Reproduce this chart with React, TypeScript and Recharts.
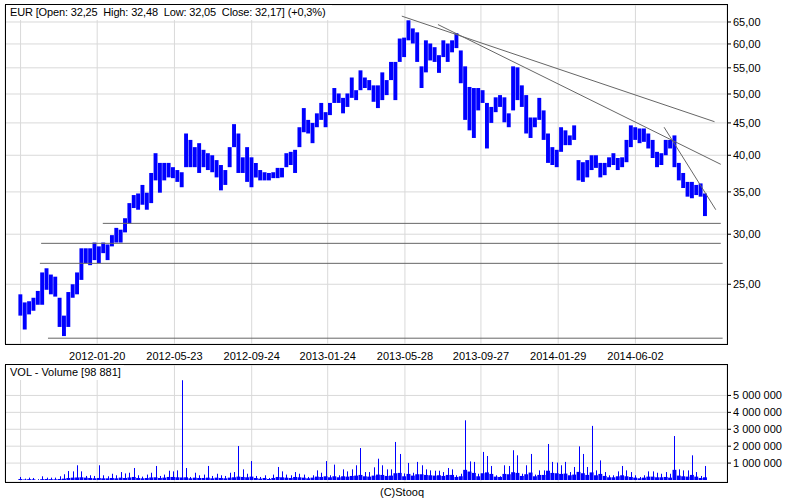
import React from "react";
import {
  ComposedChart,
  BarChart,
  Bar,
  XAxis,
  YAxis,
  CartesianGrid,
  ReferenceLine,
} from "recharts";

const FONT = '"Liberation Sans", Arial, sans-serif';
const BLUE = "#0000ff";
const GRID = "#d9d9d9";
const DRAWN = "#666666";

// Weekly bars, first week centred on this date.
const FIRST_WEEK = "2011-09-19";
const X_START = "2011-08-25";
const X_END = "2014-10-27";
const GRID_DATES = [
  "2011-09-19", "2012-01-20", "2012-05-23", "2012-09-24", "2013-01-24",
  "2013-05-28", "2013-09-27", "2014-01-29", "2014-06-02",
];
const UNLABELED_DATE = "2011-09-19";

const HIGH = [
  24.1, 23.4, 23.5, 23.8, 24.4, 26.1, 26.5, 25.9, 25.7, 23.8,
  22.3, 24.3, 25.0, 26.1, 28.5, 28.5, 28.5, 29.1, 28.7, 29.1,
  28.9, 29.9, 30.7, 30.5, 31.8, 33.6, 34.6, 34.8, 35.9, 34.9,
  37.5, 40.3, 38.9, 38.9, 38.9, 38.3, 37.9, 37.6, 43.3, 42.3,
  41.2, 41.8, 40.8, 40.3, 40.0, 39.3, 38.6, 37.9, 41.2, 44.8,
  43.3, 39.7, 41.2, 39.7, 38.9, 37.9, 37.6, 37.5, 37.6, 38.2,
  38.2, 40.3, 40.5, 40.8, 44.3, 47.5, 45.5, 45.0, 46.6, 48.4,
  46.8, 48.4, 51.1, 50.1, 49.3, 50.1, 53.1, 50.7, 54.5, 53.1,
  52.6, 51.6, 51.6, 54.1, 52.6, 56.2, 56.2, 61.2, 61.4, 65.4,
  63.5, 62.6, 55.3, 60.8, 60.1, 59.3, 57.6, 60.8, 60.1, 60.8,
  62.4, 58.6, 55.3, 51.3, 51.1, 51.1, 50.7, 48.4, 47.7, 49.4,
  49.8, 49.4, 46.6, 55.3, 55.1, 51.6, 49.8, 45.9, 45.9, 49.3,
  47.1, 43.3, 41.2, 40.8, 44.3, 43.8, 43.0, 44.6, 39.3, 39.0,
  39.3, 40.0, 40.0, 38.9, 38.9, 39.7, 40.3, 39.6, 39.7, 42.3,
  44.6, 44.3, 44.1, 44.1, 43.3, 42.3, 40.5, 40.3, 42.3, 42.3,
  43.0, 38.9, 37.5, 36.3, 36.3, 35.9, 36.1, 34.8,
];

const LOW = [
  22.3, 21.2, 22.4, 22.7, 23.2, 23.2, 24.5, 24.1, 23.9, 21.4,
  20.7, 21.4, 23.8, 24.1, 25.4, 27.0, 26.8, 27.3, 27.0, 28.0,
  27.3, 28.7, 29.1, 29.1, 30.2, 31.2, 33.0, 32.8, 33.4, 32.8,
  33.6, 36.5, 34.9, 36.5, 36.9, 36.8, 36.3, 35.6, 38.3, 38.3,
  38.3, 37.5, 38.3, 37.9, 37.6, 36.9, 35.2, 35.9, 38.3, 41.2,
  37.5, 37.5, 36.3, 35.6, 36.9, 36.5, 36.5, 36.5, 36.8, 36.8,
  36.9, 38.3, 38.6, 37.5, 41.2, 43.5, 43.3, 41.8, 44.3, 45.5,
  44.3, 46.3, 48.4, 48.4, 46.6, 47.7, 49.3, 48.9, 50.7, 51.1,
  50.7, 48.6, 47.5, 48.9, 49.8, 52.6, 48.9, 56.2, 57.2, 60.8,
  60.1, 56.2, 51.1, 54.1, 56.5, 56.2, 54.0, 57.2, 56.2, 58.2,
  59.1, 52.0, 45.5, 43.8, 42.6, 47.1, 48.4, 41.0, 45.0, 46.8,
  47.7, 45.1, 44.3, 47.1, 48.9, 47.7, 43.3, 42.6, 44.3, 45.5,
  42.3, 38.9, 38.6, 38.3, 40.5, 41.5, 41.5, 42.3, 36.5, 36.3,
  36.9, 37.9, 38.2, 36.9, 37.2, 38.3, 38.6, 37.9, 38.3, 39.0,
  41.2, 42.3, 41.8, 42.0, 41.0, 39.6, 38.3, 38.6, 40.0, 41.0,
  38.3, 36.5, 35.5, 34.4, 34.2, 34.6, 34.4, 32.05,
];

// Volume in millions: biggest session of the week, and the usual level.
const VOL_PEAK = [
  0.18, 0.08, 0.14, 0.12, 0.05, 0.22, 0.14, 0.14, 0.14, 0.22,
  0.34, 0.53, 0.51, 0.87, 0.51, 0.24, 0.28, 0.24, 0.87, 0.28,
  0.22, 0.37, 0.28, 0.47, 0.39, 0.43, 0.71, 0.28, 0.20, 0.32,
  0.43, 0.83, 0.24, 0.32, 0.55, 0.51, 0.57, 5.90, 0.71, 0.18,
  0.43, 0.28, 0.32, 0.83, 0.24, 0.37, 0.28, 0.24, 0.43, 0.47,
  2.01, 0.63, 0.37, 1.12, 0.24, 0.18, 0.28, 0.12, 0.32, 0.77,
  0.51, 0.32, 0.28, 0.47, 0.37, 0.32, 0.18, 0.28, 0.57, 0.43,
  1.12, 0.28, 0.91, 0.28, 0.63, 0.51, 0.63, 0.87, 1.89, 0.47,
  0.47, 0.75, 1.26, 0.87, 0.63, 0.63, 2.25, 1.54, 0.39, 1.01,
  0.43, 1.07, 0.87, 0.63, 0.57, 0.55, 0.55, 0.47, 0.71, 0.63,
  0.28, 0.37, 3.53, 1.10, 1.07, 0.37, 1.66, 1.42, 0.83, 0.28,
  0.22, 0.87, 0.83, 1.76, 1.46, 0.37, 0.87, 1.54, 0.32, 0.57,
  0.57, 2.13, 1.07, 1.03, 0.87, 1.07, 0.47, 0.77, 1.99, 1.54,
  0.77, 3.20, 0.57, 1.16, 0.47, 0.28, 0.28, 0.51, 0.83, 0.57,
  0.47, 0.28, 0.18, 0.28, 0.51, 0.51, 0.43, 0.37, 0.47, 0.37,
  2.60, 0.63, 0.57, 0.57, 1.46, 0.47, 0.24, 0.83,
];

const VOL_BASE = [
  0.06, 0.03, 0.05, 0.04, 0.00, 0.05, 0.06, 0.05, 0.04, 0.06,
  0.08, 0.12, 0.14, 0.15, 0.16, 0.14, 0.12, 0.10, 0.12, 0.10,
  0.10, 0.12, 0.10, 0.14, 0.12, 0.15, 0.18, 0.12, 0.10, 0.12,
  0.15, 0.16, 0.12, 0.14, 0.18, 0.18, 0.16, 0.15, 0.16, 0.10,
  0.14, 0.12, 0.12, 0.14, 0.10, 0.14, 0.12, 0.10, 0.14, 0.16,
  0.20, 0.18, 0.16, 0.20, 0.12, 0.08, 0.12, 0.06, 0.12, 0.18,
  0.16, 0.14, 0.12, 0.18, 0.16, 0.14, 0.10, 0.14, 0.20, 0.18,
  0.22, 0.16, 0.22, 0.16, 0.22, 0.20, 0.24, 0.26, 0.30, 0.22,
  0.20, 0.26, 0.32, 0.30, 0.24, 0.26, 0.40, 0.42, 0.22, 0.36,
  0.26, 0.34, 0.34, 0.30, 0.28, 0.26, 0.28, 0.24, 0.30, 0.30,
  0.18, 0.22, 0.60, 0.50, 0.42, 0.22, 0.40, 0.45, 0.36, 0.20,
  0.18, 0.36, 0.34, 0.46, 0.42, 0.24, 0.34, 0.44, 0.22, 0.30,
  0.30, 0.55, 0.42, 0.40, 0.36, 0.38, 0.28, 0.32, 0.48, 0.40,
  0.30, 0.45, 0.28, 0.36, 0.24, 0.16, 0.16, 0.22, 0.28, 0.22,
  0.18, 0.14, 0.10, 0.14, 0.20, 0.20, 0.16, 0.16, 0.18, 0.14,
  0.60, 0.26, 0.22, 0.20, 0.30, 0.20, 0.12, 0.16,
];

const PRICE_TICKS = [25, 30, 35, 40, 45, 50, 55, 60, 65];
const PRICE_DOMAIN = [20.11, 69.15];
const VOL_TICKS = [1000000, 2000000, 3000000, 4000000, 5000000];
const VOL_DOMAIN = [-118000, 6800000];

// Hand-drawn trend lines and support levels.
const TREND_LINES = [
  { x1: "2013-05-23", y1: 66.4, x2: "2014-10-07", y2: 45.2 },
  { x1: "2013-07-20", y1: 64.4, x2: "2014-10-17", y2: 38.7 },
  { x1: "2014-07-18", y1: 44.3, x2: "2014-10-09", y2: 32.8 },
];
const LEVELS = [
  { price: 31.21, from: "2012-01-29", to: "2014-10-17" },
  { price: 29.02, from: "2011-10-22", to: "2014-10-17" },
  { price: 26.98, from: "2011-10-20", to: "2014-10-20" },
  { price: 20.54, from: "2011-11-02", to: "2014-10-20" },
];

const TITLE = "EUR [Open: 32,25  High: 32,48  Low: 32,05  Close: 32,17] (+0,3%)";
const VOL_TITLE = "VOL - Volume [98 881]";

const DAY_MS = 86400000;
const day = (s: string) => Math.round(Date.parse(s + "T00:00:00Z") / DAY_MS);
const fmtDate = (d: number) => new Date(d * DAY_MS).toISOString().slice(0, 10);
const fmtPrice = (v: number) => v.toFixed(2).replace(".", ",");
const fmtVol = (v: number) => String(v).replace(/\B(?=(\d{3})+(?!\d))/g, " ");

const start = day(FIRST_WEEK);
const priceRows = HIGH.map((h, i) => ({ t: start + 7 * i, range: [LOW[i], h] }));
const volRows = VOL_PEAK.map((v, i) => ({
  t: start + 7 * i,
  vol: v * 1000000,
  base: VOL_BASE[i] * 1000000,
}));

const xDomain = [day(X_START), day(X_END)];
const xTicks = GRID_DATES.map(day);
const tickStyle = { fontSize: 11, fill: "#000", fontFamily: FONT };

function VolShape(props: any) {
  const { x, y, width, height, payload } = props;
  if (!height || height <= 0) return null;
  const cx = Math.round(x + width / 2);
  const bh = height * Math.min(1, payload.base / payload.vol);
  return (
    <g>
      <rect x={cx} y={y} width={1} height={height} fill={BLUE} />
      <rect x={x} y={y + height - bh} width={width} height={bh} fill={BLUE} />
    </g>
  );
}

const boxText: React.CSSProperties = {
  position: "absolute",
  background: "#fff",
  fontFamily: FONT,
  fontSize: 11,
  lineHeight: "15px",
  color: "#000",
  whiteSpace: "pre",
  boxSizing: "border-box",
  paddingLeft: 4,
};

export default function App() {
  return (
    <div style={{ position: "absolute", left: 0, top: 0, width: 800, height: 500, background: "#fff" }}>
      <div style={{ position: "absolute", left: 0, top: 0 }}>
        <ComposedChart width={800} height={364} data={priceRows} margin={{ top: 5, right: 0, bottom: 0, left: 5 }}>
          <CartesianGrid stroke={GRID} />
          <XAxis
            dataKey="t"
            type="number"
            domain={xDomain}
            allowDataOverflow
            ticks={xTicks}
            interval={0}
            tickFormatter={(v: number) => (v === day(UNLABELED_DATE) ? "" : fmtDate(v))}
            tick={tickStyle}
            tickLine={false}
            axisLine={false}
            tickSize={6}
            tickMargin={2}
            height={20}
          />
          <YAxis
            orientation="right"
            scale="log"
            type="number"
            domain={PRICE_DOMAIN}
            allowDataOverflow
            ticks={PRICE_TICKS}
            interval={0}
            tickFormatter={fmtPrice}
            tick={tickStyle}
            tickLine={{ stroke: "#000" }}
            axisLine={false}
            tickSize={4}
            tickMargin={2}
            width={73}
          />
          {LEVELS.map((l, i) => (
            <ReferenceLine
              key={"l" + i}
              segment={[{ x: day(l.from), y: l.price }, { x: day(l.to), y: l.price }]}
              stroke={DRAWN}
              strokeWidth={1}
              ifOverflow="visible"
            />
          ))}
          <Bar dataKey="range" fill={BLUE} barSize={4.4} isAnimationActive={false} />
          {TREND_LINES.map((l, i) => (
            <ReferenceLine
              key={"t" + i}
              segment={[{ x: day(l.x1), y: l.y1 }, { x: day(l.x2), y: l.y2 }]}
              stroke={DRAWN}
              strokeWidth={1}
              ifOverflow="visible"
            />
          ))}
        </ComposedChart>
      </div>

      <div style={{ position: "absolute", left: 0, top: 360 }}>
        <BarChart width={800} height={127} data={volRows} margin={{ top: 5, right: 0, bottom: 5, left: 5 }}>
          <CartesianGrid stroke={GRID} />
          <XAxis dataKey="t" type="number" domain={xDomain} allowDataOverflow ticks={xTicks} interval={0} hide />
          <YAxis
            orientation="right"
            type="number"
            domain={VOL_DOMAIN}
            allowDataOverflow
            ticks={VOL_TICKS}
            interval={0}
            tickFormatter={fmtVol}
            tick={tickStyle}
            tickLine={{ stroke: "#000" }}
            axisLine={false}
            tickSize={4}
            tickMargin={2}
            width={73}
          />
          <Bar dataKey="vol" fill={BLUE} barSize={4.4} shape={VolShape} isAnimationActive={false} />
        </BarChart>
      </div>

      {/* frames and captions */}
      <div style={{ position: "absolute", left: 5, top: 4, width: 723, height: 341, border: "1px solid #000", boxSizing: "border-box" }} />
      <div style={{ position: "absolute", left: 5, top: 364, width: 723, height: 119, border: "1px solid #000", boxSizing: "border-box" }} />
      <div style={{ ...boxText, left: 6, top: 5, width: 326, height: 15, letterSpacing: -0.15 }}>{TITLE}</div>
      <div style={{ ...boxText, left: 6, top: 365, width: 118, height: 15 }}>{VOL_TITLE}</div>
      <div style={{ ...boxText, left: 380, top: 485, background: "transparent", paddingLeft: 0 }}>(C)Stooq</div>
    </div>
  );
}
